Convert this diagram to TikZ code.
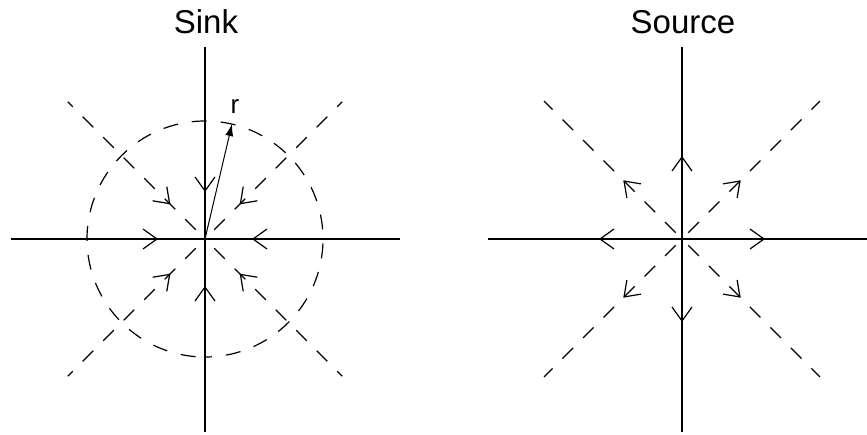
\documentclass[tikz,border=0pt]{standalone}
\usepackage{fontspec}
\setmainfont{Liberation Sans}
\usetikzlibrary{arrows.meta,decorations.markings,calc}
\begin{document}
\begin{tikzpicture}[x=1pt,y=-1pt,line width=1.2pt,
  dashline/.style={dash pattern=on 15pt off 14pt,dash phase=8pt},
  vmark/.style={postaction={decorate,decoration={markings,
    mark=at position #1 with {\arrow{Straight Barb[length=14pt,width=20pt,line width=1.2pt]}}}}},
  title/.style={font=\fontsize{33}{33}\selectfont,inner sep=0pt}
]
\useasboundingbox (0,0) rectangle (867,434);
\coordinate (sk) at (205,239);
\coordinate (so) at (682,239);
% titles
\node[title] (tsink) at (206,22) {Sink};
\node[title] (tsource) at (683,22) {Source};
% Sink: solid axes, arrows toward centre
\foreach \a/\l in {180/194,0/195,90/193,270/192}{
  \coordinate (e) at ($(sk)+(\a:\l)$);
  \draw[vmark=-47pt] (e) -- (sk);
}
% Sink: dashed diagonals
\foreach \a in {45,135,225,315}{
  \coordinate (e) at ($(sk)+(\a:194)$);
  \draw[dashline,vmark=-49pt] (e) -- (sk);
}
% Sink: dashed circle
\draw[dashline] (sk) ++(90:118) arc[start angle=90,end angle=-270,radius=118];
% radius arrow
\coordinate (rtip) at (232,124);
\draw[line width=1pt,-{Latex[length=12pt,width=8pt]}] (sk) -- (rtip);
\node[font=\fontsize{26}{26}\selectfont,inner sep=0pt] (rlab) at (235,107) {r};
% Source: solid axes, arrows outward
\foreach \a/\l in {180/194,0/185,90/193,270/192}{
  \coordinate (e) at ($(so)+(\a:\l)$);
  \draw[vmark=83pt] (so) -- (e);
}
% Source: dashed diagonals
\foreach \a in {45,135,225,315}{
  \coordinate (e) at ($(so)+(\a:195)$);
  \draw[dash pattern=on 15pt off 14pt,dash phase=20pt,vmark=83pt] (so) -- (e);
}
\end{tikzpicture}
\end{document}
